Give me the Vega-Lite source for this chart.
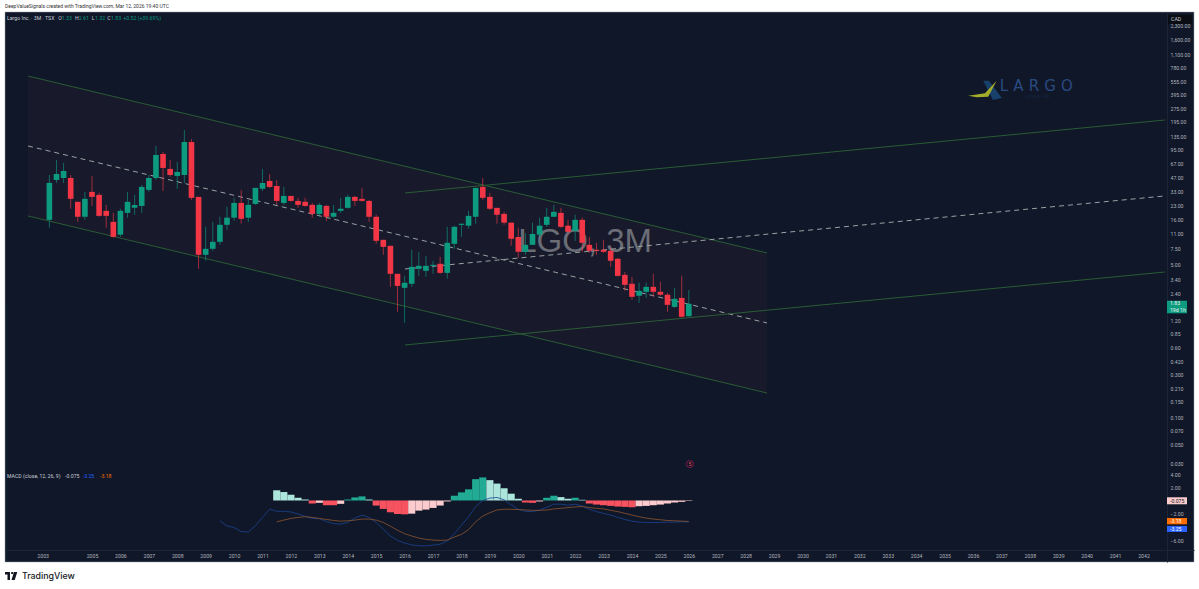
{"$schema":"https://vega.github.io/schema/vega-lite/v6.json","width":1189,"height":550,"autosize":{"type":"none"},"padding":{"left":5,"top":12,"right":5,"bottom":27},"background":"#ffffff","view":{"fill":"#0f1729","stroke":"#9aa0aa","strokeWidth":0.5},
"datasets":{
"candles":[
{"year":2003.5,"open":15.8,"close":40.8,"high":50,"low":12.9,"dir":"up"},{"year":2003.75,"open":44,"close":51.3,"high":73.5,"low":40.8,"dir":"up"},{"year":2004,"open":46.3,"close":55.4,"high":68.1,"low":40.8,"dir":"up"},{"year":2004.25,"open":46.3,"close":27.1,"high":50,"low":21,"dir":"down"},{"year":2004.5,"open":25.1,"close":17.1,"high":25.1,"low":15,"dir":"down"},{"year":2004.75,"open":17.1,"close":27.1,"high":32.4,"low":15.8,"dir":"up"},{"year":2005,"open":32.4,"close":28.5,"high":48.8,"low":22.6,"dir":"down"},{"year":2005.25,"open":30,"close":17.5,"high":31.6,"low":17.1,"dir":"down"},{"year":2005.5,"open":19.9,"close":17.5,"high":23.2,"low":12.9,"dir":"down"},{"year":2005.75,"open":15,"close":10.2,"high":18.9,"low":9.96,"dir":"down"},{"year":2006,"open":10.8,"close":19.9,"high":21,"low":10.2,"dir":"up"},{"year":2006.25,"open":18.9,"close":25.1,"high":32.4,"low":16.7,"dir":"up"},{"year":2006.5,"open":21.5,"close":23.2,"high":30,"low":18,"dir":"up"},{"year":2006.75,"open":22.6,"close":36.8,"high":38.7,"low":18.9,"dir":"up"},{"year":2007,"open":34.1,"close":46.3,"high":50,"low":32.4,"dir":"up"},{"year":2007.25,"open":46.3,"close":83.6,"high":105.2,"low":44,"dir":"up"},{"year":2007.5,"open":85.7,"close":59.9,"high":90.2,"low":33.2,"dir":"down"},{"year":2007.75,"open":58.4,"close":50,"high":73.5,"low":47.5,"dir":"down"},{"year":2008,"open":48.8,"close":54,"high":69.8,"low":35,"dir":"up"},{"year":2008.25,"open":50,"close":116.6,"high":158.7,"low":40.8,"dir":"up"},{"year":2008.5,"open":116.6,"close":27.8,"high":126,"low":26.4,"dir":"down"},{"year":2008.75,"open":28.5,"close":6.44,"high":28.5,"low":4.49,"dir":"down"},{"year":2009,"open":6.44,"close":7.51,"high":13.2,"low":5.52,"dir":"up"},{"year":2009.25,"open":7.51,"close":8.99,"high":15,"low":7.13,"dir":"up"},{"year":2009.5,"open":8.99,"close":13.9,"high":17.1,"low":8.32,"dir":"up"},{"year":2009.75,"open":13.9,"close":16.7,"high":22.1,"low":12.2,"dir":"up"},{"year":2010,"open":16.7,"close":24.4,"high":27.8,"low":15.4,"dir":"up"},{"year":2010.25,"open":24.4,"close":16.2,"high":34.1,"low":14.3,"dir":"down"},{"year":2010.5,"open":16.7,"close":23.2,"high":26.4,"low":15,"dir":"up"},{"year":2010.75,"open":23.8,"close":35.9,"high":35.9,"low":23.2,"dir":"up"},{"year":2011,"open":35,"close":40.8,"high":58.4,"low":33.2,"dir":"up"},{"year":2011.25,"open":42.9,"close":36.8,"high":51.3,"low":35.9,"dir":"down"},{"year":2011.5,"open":37.7,"close":25.7,"high":44,"low":23.2,"dir":"down"},{"year":2011.75,"open":24.4,"close":29.2,"high":36.8,"low":23.2,"dir":"up"},{"year":2012,"open":29.2,"close":25.7,"high":29.2,"low":25.1,"dir":"down"},{"year":2012.25,"open":25.7,"close":23.2,"high":27.8,"low":21.5,"dir":"down"},{"year":2012.5,"open":25.1,"close":22.6,"high":27.8,"low":22.1,"dir":"down"},{"year":2012.75,"open":23.2,"close":18.4,"high":24.4,"low":16.7,"dir":"down"},{"year":2013,"open":18.4,"close":23.2,"high":24.4,"low":17.1,"dir":"up"},{"year":2013.25,"open":22.6,"close":17.1,"high":23.2,"low":15.4,"dir":"down"},{"year":2013.5,"open":17.1,"close":18.9,"high":23.2,"low":16.7,"dir":"up"},{"year":2013.75,"open":19.9,"close":21,"high":27.8,"low":18.9,"dir":"up"},{"year":2014,"open":21.5,"close":28.5,"high":30,"low":21,"dir":"up"},{"year":2014.25,"open":28.5,"close":25.7,"high":29.2,"low":22.6,"dir":"down"},{"year":2014.5,"open":27.1,"close":25.7,"high":35.9,"low":25.1,"dir":"down"},{"year":2014.75,"open":25.7,"close":17.1,"high":26.4,"low":15,"dir":"down"},{"year":2015,"open":17.1,"close":9.22,"high":18,"low":8.54,"dir":"down"},{"year":2015.25,"open":9.46,"close":7.9,"high":9.46,"low":6.44,"dir":"down"},{"year":2015.5,"open":8.11,"close":3.95,"high":8.11,"low":2.83,"dir":"down"},{"year":2015.75,"open":3.95,"close":2.9,"high":3.95,"low":1.49,"dir":"down"},{"year":2016,"open":2.76,"close":3.14,"high":3.75,"low":1.12,"dir":"up"},{"year":2016.25,"open":3.06,"close":4.73,"high":7.32,"low":2.83,"dir":"up"},{"year":2016.5,"open":4.49,"close":4.85,"high":6.95,"low":3.75,"dir":"up"},{"year":2016.75,"open":4.27,"close":4.85,"high":6.27,"low":3.66,"dir":"up"},{"year":2017,"open":4.85,"close":4.98,"high":5.52,"low":3.95,"dir":"up"},{"year":2017.25,"open":5.11,"close":4.05,"high":6.12,"low":3.95,"dir":"down"},{"year":2017.5,"open":4.05,"close":8.76,"high":13.2,"low":3.48,"dir":"up"},{"year":2017.75,"open":8.54,"close":13.2,"high":13.6,"low":7.51,"dir":"up"},{"year":2018,"open":13.9,"close":14.3,"high":14.3,"low":10.2,"dir":"up"},{"year":2018.25,"open":13.6,"close":17.5,"high":19.9,"low":12.6,"dir":"up"},{"year":2018.5,"open":17.1,"close":35.9,"high":35.9,"low":14.3,"dir":"up"},{"year":2018.75,"open":36.8,"close":27.8,"high":46.3,"low":26.4,"dir":"down"},{"year":2019,"open":28.5,"close":21,"high":31.6,"low":20.4,"dir":"down"},{"year":2019.25,"open":21.5,"close":18,"high":21.5,"low":14.3,"dir":"down"},{"year":2019.5,"open":18.4,"close":14.7,"high":19.4,"low":13.9,"dir":"down"},{"year":2019.75,"open":14.7,"close":9.71,"high":14.7,"low":8.11,"dir":"down"},{"year":2020,"open":10.2,"close":6.95,"high":12.9,"low":5.96,"dir":"down"},{"year":2020.25,"open":6.95,"close":8.32,"high":11.3,"low":6.44,"dir":"up"},{"year":2020.5,"open":8.32,"close":11,"high":14.7,"low":8.32,"dir":"up"},{"year":2020.75,"open":10.8,"close":13.6,"high":16.7,"low":10.2,"dir":"up"},{"year":2021,"open":13.9,"close":17.1,"high":21.5,"low":13.2,"dir":"up"},{"year":2021.25,"open":17.1,"close":19.4,"high":23.2,"low":17.1,"dir":"up"},{"year":2021.5,"open":18.9,"close":13.2,"high":21.5,"low":12.9,"dir":"down"},{"year":2021.75,"open":13.6,"close":11.6,"high":15.8,"low":11.3,"dir":"down"},{"year":2022,"open":11.9,"close":15.8,"high":18,"low":9.22,"dir":"up"},{"year":2022.25,"open":15.8,"close":8.76,"high":16.7,"low":6.95,"dir":"down"},{"year":2022.5,"open":8.32,"close":7.13,"high":10.2,"low":6.78,"dir":"down"},{"year":2022.75,"open":7.32,"close":7.13,"high":8.76,"low":6.44,"dir":"down"},{"year":2023,"open":7.32,"close":6.95,"high":9.46,"low":6.78,"dir":"down"},{"year":2023.25,"open":7.13,"close":5.52,"high":7.7,"low":4.73,"dir":"down"},{"year":2023.5,"open":5.81,"close":3.75,"high":5.96,"low":3.66,"dir":"down"},{"year":2023.75,"open":3.85,"close":2.98,"high":4.16,"low":2.55,"dir":"down"},{"year":2024,"open":3.06,"close":2.19,"high":3.66,"low":2.03,"dir":"down"},{"year":2024.25,"open":2.25,"close":2.55,"high":3.14,"low":1.88,"dir":"up"},{"year":2024.5,"open":2.49,"close":2.83,"high":3.14,"low":2.13,"dir":"up"},{"year":2024.75,"open":2.83,"close":2.49,"high":3.95,"low":2.19,"dir":"down"},{"year":2025,"open":2.49,"close":2.31,"high":3.22,"low":2.25,"dir":"down"},{"year":2025.25,"open":2.31,"close":1.78,"high":2.43,"low":1.49,"dir":"down"},{"year":2025.5,"open":1.69,"close":2.08,"high":2.76,"low":1.65,"dir":"up"},{"year":2025.75,"open":2.13,"close":1.31,"high":3.75,"low":1.28,"dir":"down"},{"year":2026,"open":1.33,"close":1.83,"high":2.61,"low":1.32,"dir":"up"}
],
"channelA":[{"year":2002.748,"upper":634.8,"mid":105.3,"lower":17.45},{"year":2028.751,"upper":6.75,"mid":1.119,"lower":0.1853}],
"channelB":[{"year":2016.013,"upper":31.5,"mid":4.475,"lower":0.636},{"year":2042.755,"upper":205,"mid":29.2,"lower":4.14}],
"hist":[
{"year":2011.5,"hist":1.54,"phase":"upFade"},{"year":2011.75,"hist":1.28,"phase":"upFade"},{"year":2012,"hist":0.87,"phase":"upFade"},{"year":2012.25,"hist":0.41,"phase":"upFade"},{"year":2012.5,"hist":0.15,"phase":"upFade"},{"year":2012.75,"hist":-0.46,"phase":"down"},{"year":2013,"hist":-0.36,"phase":"downFade"},{"year":2013.25,"hist":-0.72,"phase":"down"},{"year":2013.5,"hist":-0.72,"phase":"down"},{"year":2013.75,"hist":-0.51,"phase":"downFade"},{"year":2014,"hist":0.15,"phase":"up"},{"year":2014.25,"hist":0.46,"phase":"up"},{"year":2014.5,"hist":0.62,"phase":"up"},{"year":2014.75,"hist":0.15,"phase":"upFade"},{"year":2015,"hist":-0.77,"phase":"down"},{"year":2015.25,"hist":-1.28,"phase":"down"},{"year":2015.5,"hist":-1.79,"phase":"down"},{"year":2015.75,"hist":-2.05,"phase":"down"},{"year":2016,"hist":-2.1,"phase":"down"},{"year":2016.25,"hist":-2,"phase":"downFade"},{"year":2016.5,"hist":-1.54,"phase":"downFade"},{"year":2016.75,"hist":-1.38,"phase":"downFade"},{"year":2017,"hist":-1.13,"phase":"downFade"},{"year":2017.25,"hist":-0.77,"phase":"downFade"},{"year":2017.5,"hist":-0.15,"phase":"downFade"},{"year":2017.75,"hist":0.72,"phase":"up"},{"year":2018,"hist":1.23,"phase":"up"},{"year":2018.25,"hist":1.69,"phase":"up"},{"year":2018.5,"hist":3.23,"phase":"up"},{"year":2018.75,"hist":3.49,"phase":"up"},{"year":2019,"hist":3.08,"phase":"upFade"},{"year":2019.25,"hist":2.56,"phase":"upFade"},{"year":2019.5,"hist":1.85,"phase":"upFade"},{"year":2019.75,"hist":1.03,"phase":"upFade"},{"year":2020,"hist":0.26,"phase":"upFade"},{"year":2020.25,"hist":-0.31,"phase":"down"},{"year":2020.5,"hist":-0.36,"phase":"down"},{"year":2020.75,"hist":-0.15,"phase":"downFade"},{"year":2021,"hist":0.41,"phase":"up"},{"year":2021.25,"hist":0.72,"phase":"up"},{"year":2021.5,"hist":0.51,"phase":"upFade"},{"year":2021.75,"hist":0.26,"phase":"upFade"},{"year":2022,"hist":0.41,"phase":"up"},{"year":2022.25,"hist":0.1,"phase":"upFade"},{"year":2022.5,"hist":-0.46,"phase":"down"},{"year":2022.75,"hist":-0.62,"phase":"down"},{"year":2023,"hist":-0.72,"phase":"down"},{"year":2023.25,"hist":-0.82,"phase":"down"},{"year":2023.5,"hist":-0.92,"phase":"down"},{"year":2023.75,"hist":-0.97,"phase":"down"},{"year":2024,"hist":-1.03,"phase":"down"},{"year":2024.25,"hist":-0.87,"phase":"downFade"},{"year":2024.5,"hist":-0.82,"phase":"downFade"},{"year":2024.75,"hist":-0.72,"phase":"downFade"},{"year":2025,"hist":-0.62,"phase":"downFade"},{"year":2025.25,"hist":-0.46,"phase":"downFade"},{"year":2025.5,"hist":-0.31,"phase":"downFade"},{"year":2025.75,"hist":-0.21,"phase":"downFade"},{"year":2026,"hist":-0.075,"phase":"downFade"}
],
"macdLine":[
{"year":2009.5,"macd":-3.08},{"year":2009.75,"macd":-3.85},{"year":2010,"macd":-4.1},{"year":2010.25,"macd":-4.72},{"year":2010.5,"macd":-4.77},{"year":2010.75,"macd":-3.85},{"year":2011,"macd":-2.56},{"year":2011.25,"macd":-1.33},{"year":2011.5,"macd":-1.64},{"year":2011.75,"macd":-1.64},{"year":2012,"macd":-1.74},{"year":2012.25,"macd":-2.05},{"year":2012.5,"macd":-2.41},{"year":2012.75,"macd":-2.72},{"year":2013,"macd":-2.77},{"year":2013.25,"macd":-3.18},{"year":2013.5,"macd":-3.49},{"year":2013.75,"macd":-3.59},{"year":2014,"macd":-3.33},{"year":2014.25,"macd":-2.67},{"year":2014.5,"macd":-2.21},{"year":2014.75,"macd":-2.56},{"year":2015,"macd":-3.33},{"year":2015.25,"macd":-4.36},{"year":2015.5,"macd":-5.38},{"year":2015.75,"macd":-6.05},{"year":2016,"macd":-6.46},{"year":2016.25,"macd":-6.72},{"year":2016.5,"macd":-6.87},{"year":2016.75,"macd":-6.87},{"year":2017,"macd":-6.77},{"year":2017.25,"macd":-6.62},{"year":2017.5,"macd":-6.15},{"year":2017.75,"macd":-5.03},{"year":2018,"macd":-3.74},{"year":2018.25,"macd":-2.46},{"year":2018.5,"macd":-0.92},{"year":2018.75,"macd":0},{"year":2019,"macd":0.36},{"year":2019.25,"macd":0.46},{"year":2019.5,"macd":0.1},{"year":2019.75,"macd":-0.67},{"year":2020,"macd":-1.33},{"year":2020.25,"macd":-1.64},{"year":2020.5,"macd":-1.69},{"year":2020.75,"macd":-1.44},{"year":2021,"macd":-1.03},{"year":2021.25,"macd":-0.56},{"year":2021.5,"macd":-0.56},{"year":2021.75,"macd":-0.72},{"year":2022,"macd":-0.56},{"year":2022.25,"macd":-0.82},{"year":2022.5,"macd":-1.33},{"year":2022.75,"macd":-1.69},{"year":2023,"macd":-1.95},{"year":2023.25,"macd":-2.21},{"year":2023.5,"macd":-2.56},{"year":2023.75,"macd":-2.87},{"year":2024,"macd":-3.13},{"year":2024.25,"macd":-3.28},{"year":2024.5,"macd":-3.33},{"year":2024.75,"macd":-3.33},{"year":2025,"macd":-3.33},{"year":2025.25,"macd":-3.28},{"year":2025.5,"macd":-3.28},{"year":2025.75,"macd":-3.23},{"year":2026,"macd":-3.25}
],
"signalLine":[
{"year":2011.5,"signal":-3.23},{"year":2011.75,"signal":-2.97},{"year":2012,"signal":-2.72},{"year":2012.25,"signal":-2.56},{"year":2012.5,"signal":-2.46},{"year":2012.75,"signal":-2.56},{"year":2013,"signal":-2.72},{"year":2013.25,"signal":-2.87},{"year":2013.5,"signal":-3.03},{"year":2013.75,"signal":-3.13},{"year":2014,"signal":-3.08},{"year":2014.25,"signal":-2.97},{"year":2014.5,"signal":-2.82},{"year":2014.75,"signal":-2.82},{"year":2015,"signal":-2.97},{"year":2015.25,"signal":-3.33},{"year":2015.5,"signal":-3.9},{"year":2015.75,"signal":-4.51},{"year":2016,"signal":-5.03},{"year":2016.25,"signal":-5.38},{"year":2016.5,"signal":-5.69},{"year":2016.75,"signal":-5.9},{"year":2017,"signal":-6},{"year":2017.25,"signal":-6.05},{"year":2017.5,"signal":-6},{"year":2017.75,"signal":-5.54},{"year":2018,"signal":-5.13},{"year":2018.25,"signal":-4.41},{"year":2018.5,"signal":-3.23},{"year":2018.75,"signal":-2.36},{"year":2019,"signal":-1.85},{"year":2019.25,"signal":-1.44},{"year":2019.5,"signal":-1.33},{"year":2019.75,"signal":-1.33},{"year":2020,"signal":-1.38},{"year":2020.25,"signal":-1.44},{"year":2020.5,"signal":-1.49},{"year":2020.75,"signal":-1.49},{"year":2021,"signal":-1.44},{"year":2021.25,"signal":-1.28},{"year":2021.5,"signal":-1.18},{"year":2021.75,"signal":-1.08},{"year":2022,"signal":-0.97},{"year":2022.25,"signal":-0.92},{"year":2022.5,"signal":-1.08},{"year":2022.75,"signal":-1.18},{"year":2023,"signal":-1.28},{"year":2023.25,"signal":-1.49},{"year":2023.5,"signal":-1.69},{"year":2023.75,"signal":-1.95},{"year":2024,"signal":-2.21},{"year":2024.25,"signal":-2.46},{"year":2024.5,"signal":-2.67},{"year":2024.75,"signal":-2.82},{"year":2025,"signal":-2.92},{"year":2025.25,"signal":-3.03},{"year":2025.5,"signal":-3.08},{"year":2025.75,"signal":-3.13},{"year":2026,"signal":-3.18}
]
},
"encoding":{"x":{"field":"year","type":"quantitative","title":null,"scale":{"domain":[2001.9388,2043.776],"nice":false,"zero":false,"padding":0},"axis":{"orient":"bottom","offset":-12,"values":[2003.265,2005,2006,2007,2008,2009,2010,2011,2012,2013,2014,2015,2016,2017,2018,2019,2020,2021,2022,2023,2024,2025,2026,2027,2028,2029,2030,2031,2032,2033,2034,2035,2036,2037,2038,2039,2040,2041,2042],"labelExpr":"format(floor(datum.value),'d')","labelOverlap":false,"labelFlush":false,"labelFont":"Roboto","labelFontSize":5.2,"labelColor":"#b2b5be","labelPadding":3,"ticks":false,"grid":false,"domainColor":"#1c2536","domainWidth":1}}},
"layer":[
{"layer":[
{"data":{"name":"channelA"},"mark":{"type":"area","color":"#181a2c","opacity":1},"encoding":{"y":{"field":"upper","type":"quantitative","title":null,"scale":{"type":"log","domain":[0.002418,3283],"nice":false},"axis":{"orient":"right","offset":-27,"values":[2300,1600,1100,780,555,395,275,195,135,95,67,47,33,23,16,11,7.5,5,3.4,2.4,1.2,0.85,0.6,0.42,0.3,0.21,0.15,0.1,0.07,0.05,0.03],"labelExpr":"datum.value<0.5 ? format(datum.value,'.3f') : format(datum.value,',.2f')","labelOverlap":false,"labelFlush":false,"labelFont":"Roboto","labelFontSize":5.2,"labelColor":"#b2b5be","labelPadding":3,"labelAlign":"left","ticks":false,"grid":false,"domainColor":"#1c2536","domainWidth":1}},"y2":{"field":"lower"}}},
{"data":{"values":[{"year":2002,"price":1.83}]},"mark":{"type":"rule","color":"#1e3a3a","strokeWidth":0.6,"strokeDash":[1,1]},"encoding":{"x":{"field":"year","type":"quantitative"},"y":{"field":"price","type":"quantitative","title":null}}},
{"data":{"values":[{"year":2022.35,"price":6.97,"t":"LGO, 3M"}]},"mark":{"type":"text","font":"Liberation Sans","fontSize":33,"color":"#6a6d76","align":"center","baseline":"alphabetic"},"encoding":{"y":{"field":"price","type":"quantitative","title":null},"text":{"field":"t"}}},
{"data":{"name":"channelA"},"mark":{"type":"line","color":"#2a5c34","strokeWidth":1},"encoding":{"y":{"field":"upper","type":"quantitative","title":null}}},
{"data":{"name":"channelA"},"mark":{"type":"line","color":"#2a5c34","strokeWidth":1},"encoding":{"y":{"field":"lower","type":"quantitative","title":null}}},
{"data":{"name":"channelA"},"mark":{"type":"line","color":"#97a3a1","strokeWidth":1,"strokeDash":[5,4]},"encoding":{"y":{"field":"mid","type":"quantitative","title":null}}},
{"data":{"name":"channelB"},"mark":{"type":"line","color":"#2a5c34","strokeWidth":1},"encoding":{"y":{"field":"upper","type":"quantitative","title":null}}},
{"data":{"name":"channelB"},"mark":{"type":"line","color":"#2a5c34","strokeWidth":1},"encoding":{"y":{"field":"lower","type":"quantitative","title":null}}},
{"data":{"name":"channelB"},"mark":{"type":"line","color":"#97a3a1","strokeWidth":1,"strokeDash":[5,4]},"encoding":{"y":{"field":"mid","type":"quantitative","title":null}}},
{"data":{"name":"candles"},"mark":{"type":"rule","strokeWidth":0.9,"opacity":0.7},"encoding":{"y":{"field":"low","type":"quantitative","title":null},"y2":{"field":"high"},"color":{"field":"dir","type":"nominal","legend":null,"scale":{"domain":["up","down"],"range":["#0d9b80","#f23645"]}}}},
{"data":{"name":"candles"},"mark":{"type":"bar","size":5.6,"orient":"vertical"},"encoding":{"y":{"field":"open","type":"quantitative","title":null},"y2":{"field":"close"},"color":{"field":"dir","type":"nominal","legend":null,"scale":{"domain":["up","down"],"range":["#0d9b80","#f23645"]}}}},
{"data":{"values":[{"year":2026.04,"price":0.0299}]},"mark":{"type":"point","shape":"circle","size":50,"filled":false,"color":"#d81b60","strokeWidth":0.8},"encoding":{"y":{"field":"price","type":"quantitative","title":null}}},
{"data":{"values":[{"year":2026.04,"price":0.0299,"t":"5"}]},"mark":{"type":"text","font":"Roboto","fontSize":5,"color":"#ef5350","align":"center","baseline":"middle"},"encoding":{"y":{"field":"price","type":"quantitative","title":null},"text":{"field":"t"}}},
{"data":{"values":[{"year":2036.42,"price":421}]},"mark":{"type":"point","filled":true,"opacity":1,"size":400,"color":"#17406a","shape":"M-0.17 -1.13 L0.4 -1.13 L1.7 0.6 L0.8 0.8 Z"},"encoding":{"y":{"field":"price","type":"quantitative","title":null}}},
{"data":{"values":[{"year":2036.42,"price":421}]},"mark":{"type":"point","filled":true,"opacity":1,"size":400,"color":"#a3ab2a","shape":"M-1.67 0.37 L0 0.13 L1.17 -1.13 L0.33 0.47 L-0.83 0.53 Z"},"encoding":{"y":{"field":"price","type":"quantitative","title":null}}},
{"data":{"values":[{"year":2037.09,"price":435.4,"t":"L"},{"year":2037.6,"price":435.4,"t":"A"},{"year":2038.146,"price":435.4,"t":"R"},{"year":2038.709,"price":435.4,"t":"G"},{"year":2039.307,"price":435.4,"t":"O"}]},"mark":{"type":"text","font":"DejaVu Sans","fontSize":15,"color":"#2a4a80","align":"center","baseline":"alphabetic"},"encoding":{"y":{"field":"price","type":"quantitative","title":null},"text":{"field":"t"}}},
{"data":{"values":[{"year":2038.25,"price":375,"t":"V A N A D I U M"}]},"mark":{"type":"text","font":"Roboto","fontSize":3.5,"color":"#1a2c4a","align":"center","baseline":"middle"},"encoding":{"y":{"field":"price","type":"quantitative","title":null},"text":{"field":"t"}}},
{"data":{"values":[{"year":2001.939,"price":3830,"t":"DeepValueSignals created with TradingView.com, Mar 12, 2026 19:40 UTC"}]},"mark":{"type":"text","font":"Roboto","fontSize":5,"color":"#333333","align":"left","baseline":"middle"},"encoding":{"y":{"field":"price","type":"quantitative","title":null},"text":{"field":"t"}}},
{"data":{"values":[{"year":2002.009,"price":2815,"t":"Largo Inc. · 3M · TSX"},{"year":2003.814,"price":2815,"t":"O"},{"year":2004.402,"price":2815,"t":"H"},{"year":2004.989,"price":2815,"t":"L"},{"year":2005.538,"price":2815,"t":"C"}]},"mark":{"type":"text","font":"Roboto","fontSize":5.2,"color":"#c8ccd4","align":"left","baseline":"middle"},"encoding":{"y":{"field":"price","type":"quantitative","title":null},"text":{"field":"t"}}},
{"data":{"values":[{"year":2003.934,"price":2815,"t":"1.33"},{"year":2004.532,"price":2815,"t":"2.61"},{"year":2005.106,"price":2815,"t":"1.32"},{"year":2005.669,"price":2815,"t":"1.83"},{"year":2006.101,"price":2815,"t":"+0.52 (+39.69%)"}]},"mark":{"type":"text","font":"Roboto","fontSize":5.2,"color":"#0d9b80","align":"left","baseline":"middle"},"encoding":{"y":{"field":"price","type":"quantitative","title":null},"text":{"field":"t"}}},
{"data":{"values":[{"year":2042.86,"year2":2043.705,"top":3040,"bottom":2412}]},"mark":{"type":"rect","color":"#0a0d14"},"encoding":{"x":{"field":"year","type":"quantitative"},"x2":{"field":"year2"},"y":{"field":"top","type":"quantitative","title":null},"y2":{"field":"bottom"}}},
{"data":{"values":[{"year":2042.97,"price":2708,"t":"CAD"}]},"mark":{"type":"text","font":"Roboto","fontSize":5.2,"color":"#c8ccd4","align":"left","baseline":"middle"},"encoding":{"y":{"field":"price","type":"quantitative","title":null},"text":{"field":"t"}}},
{"data":{"values":[{"year":2042.825,"year2":2043.529,"top":1.98,"bottom":1.434}]},"mark":{"type":"rect","color":"#0d9b80"},"encoding":{"x":{"field":"year","type":"quantitative"},"x2":{"field":"year2"},"y":{"field":"top","type":"quantitative","title":null},"y2":{"field":"bottom"}}},
{"data":{"values":[{"year":2042.93,"price":1.845,"t":"1.83"},{"year":2042.93,"price":1.562,"t":"19d 1h"}]},"mark":{"type":"text","font":"Roboto","fontSize":5.2,"color":"#e8f5f1","align":"left","baseline":"middle"},"encoding":{"y":{"field":"price","type":"quantitative","title":null},"text":{"field":"t"}}},
{"data":{"values":[{"year":2002.15,"price":0.001692}]},"mark":{"type":"point","filled":true,"opacity":1,"size":400,"color":"#131722","shape":"M-0.6 -0.4 L-0.1 -0.4 L-0.1 0.4 L-0.35 0.4 L-0.35 -0.15 L-0.6 -0.15 Z M0 -0.28 a0.12 0.12 0 1 0 0.24 0 a0.12 0.12 0 1 0 -0.24 0 Z M0.3 -0.4 L0.63 -0.4 L0.37 0.4 L0.05 0.4 Z"},"encoding":{"y":{"field":"price","type":"quantitative","title":null}}},
{"data":{"values":[{"year":2002.537,"price":0.001692,"t":"TradingView"}]},"mark":{"type":"text","font":"Inter","fontSize":8.8,"fontWeight":500,"color":"#131722","align":"left","baseline":"middle"},"encoding":{"y":{"field":"price","type":"quantitative","title":null},"text":{"field":"t"}}}
]},
{"layer":[
{"data":{"values":[{"year":2002,"macd":0}]},"mark":{"type":"rule","color":"#2b3548","strokeWidth":0.6,"strokeDash":[3,3]},"encoding":{"x":{"field":"year","type":"quantitative"},"y":{"field":"macd","type":"quantitative","title":null,"scale":{"domain":[-9.32,74],"nice":false,"zero":false},"axis":{"orient":"right","offset":-27,"values":[4,2,-2,-6],"format":".2f","labelOverlap":false,"labelFlush":false,"labelFont":"Roboto","labelFontSize":5.2,"labelColor":"#b2b5be","labelPadding":3,"labelAlign":"left","ticks":false,"grid":false,"domain":false}}}},
{"data":{"name":"hist"},"mark":{"type":"bar","size":7.1,"orient":"vertical"},"encoding":{"y":{"field":"hist","type":"quantitative","stack":null,"title":null},"y2":{"datum":0},"color":{"field":"phase","type":"nominal","legend":null,"scale":{"domain":["up","upFade","down","downFade"],"range":["#22ab94","#ace5dc","#f7525f","#fccbcd"]}}}},
{"data":{"name":"macdLine"},"mark":{"type":"line","color":"#1c4490","strokeWidth":0.8},"encoding":{"y":{"field":"macd","type":"quantitative","title":null}}},
{"data":{"name":"signalLine"},"mark":{"type":"line","color":"#8f5530","strokeWidth":0.8},"encoding":{"y":{"field":"signal","type":"quantitative","title":null}}},
{"data":{"values":[{"year":2002.009,"macd":3.71,"t":"MACD (close, 12, 26, 9)"},{"year":2004.05,"macd":3.71,"t":"-0.075"}]},"mark":{"type":"text","font":"Roboto","fontSize":5.2,"color":"#c8ccd4","align":"left","baseline":"middle"},"encoding":{"y":{"field":"macd","type":"quantitative","title":null},"text":{"field":"t"}}},
{"data":{"values":[{"year":2004.673,"macd":3.71,"t":"-3.25"}]},"mark":{"type":"text","font":"Roboto","fontSize":5.2,"color":"#2962ff","align":"left","baseline":"middle"},"encoding":{"y":{"field":"macd","type":"quantitative","title":null},"text":{"field":"t"}}},
{"data":{"values":[{"year":2005.281,"macd":3.71,"t":"-3.18"}]},"mark":{"type":"text","font":"Roboto","fontSize":5.2,"color":"#ff6d00","align":"left","baseline":"middle"},"encoding":{"y":{"field":"macd","type":"quantitative","title":null},"text":{"field":"t"}}},
{"data":{"values":[{"year":2042.825,"year2":2043.529,"top":0.485,"bottom":-0.576}]},"mark":{"type":"rect","color":"#fccbcd"},"encoding":{"x":{"field":"year","type":"quantitative"},"x2":{"field":"year2"},"y":{"field":"top","type":"quantitative","title":null},"y2":{"field":"bottom"}}},
{"data":{"values":[{"year":2042.825,"year2":2043.529,"top":-2.65,"bottom":-3.61}]},"mark":{"type":"rect","color":"#ff6d00"},"encoding":{"x":{"field":"year","type":"quantitative"},"x2":{"field":"year2"},"y":{"field":"top","type":"quantitative","title":null},"y2":{"field":"bottom"}}},
{"data":{"values":[{"year":2042.825,"year2":2043.529,"top":-3.86,"bottom":-4.77}]},"mark":{"type":"rect","color":"#2962ff"},"encoding":{"x":{"field":"year","type":"quantitative"},"x2":{"field":"year2"},"y":{"field":"top","type":"quantitative","title":null},"y2":{"field":"bottom"}}},
{"data":{"values":[{"year":2042.93,"macd":-0.05,"t":"-0.075"}]},"mark":{"type":"text","font":"Roboto","fontSize":5.2,"color":"#131722","align":"left","baseline":"middle"},"encoding":{"y":{"field":"macd","type":"quantitative","title":null},"text":{"field":"t"}}},
{"data":{"values":[{"year":2042.93,"macd":-3.14,"t":"-3.18"},{"year":2042.93,"macd":-4.32,"t":"-3.25"}]},"mark":{"type":"text","font":"Roboto","fontSize":5.2,"color":"#ffffff","align":"left","baseline":"middle"},"encoding":{"y":{"field":"macd","type":"quantitative","title":null},"text":{"field":"t"}}}
]}
],
"resolve":{"scale":{"y":"independent","color":"independent"}}
}
